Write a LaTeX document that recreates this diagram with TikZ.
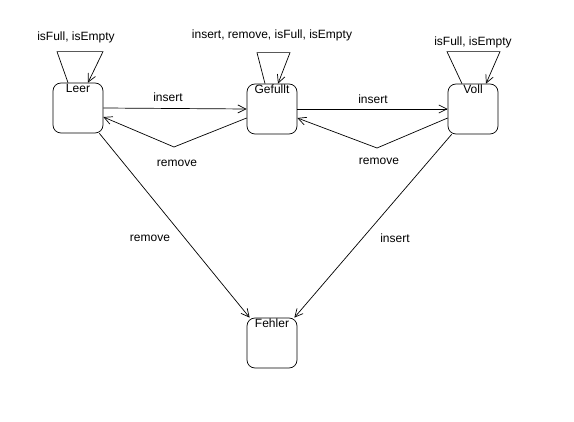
\documentclass[tikz,border=0pt]{standalone}
\usepackage{fontspec}
\setmainfont{Liberation Sans}
\usetikzlibrary{arrows.meta}

\begin{document}
\begin{tikzpicture}[x=1pt,y=-1pt,line width=0.7pt,
	font=\fontsize{12}{14}\selectfont,
	state/.style={shape=rectangle, draw, rounded corners=8pt, minimum width=50pt, minimum height=50pt, inner sep=0pt},
	statename/.style={anchor=north, inner sep=1pt},
	trans/.style={-{Straight Barb[length=8pt,width=8pt]}},
	lbl/.style={anchor=center, inner sep=0pt}]	% States, loops and transitions:
		\useasboundingbox (0,0) rectangle (574,422);
		\node[state](leer) at (78,108){};
		\node[statename] at (leer.north){Leer};
		\node[state](gefullt) at (272,109){};
		\node[statename] at (gefullt.north){Gefullt};
		\node[state](voll) at (473,109){};
		\node[statename] at (voll.north){Voll};
		\node[state](fehler) at (272,343){};
		\node[statename] at (fehler.north){Fehler};
		% self loops
		\draw[trans] ([xshift=-10pt]leer.north) -- ++(-11,-31) -- ++(46,0) -- ([xshift=10pt]leer.north);
		\draw[trans] ([xshift=-7pt]gefullt.north) -- ++(-8,-31) -- ++(33,0) -- ([xshift=6pt]gefullt.north);
		\draw[trans] ([xshift=-11pt]voll.north) -- ++(-15,-32) -- ++(53,0) -- ([xshift=13pt]voll.north);
		\node[lbl](l1) at (76,37){isFull, isEmpty};
		\node[lbl](l2) at (272,35){insert, remove, isFull, isEmpty};
		\node[lbl](l3) at (473,42){isFull, isEmpty};
		% insert / remove between states
		\coordinate (rm1) at (174,147);
		\coordinate (rm2) at (377,148);
		\draw[trans] (leer.east) -- (gefullt.west);
		\draw[trans] (gefullt.east) -- (voll.west);
		\draw[trans] ([yshift=-9pt]gefullt.west) -- (rm1) -- ([yshift=-9pt]leer.east);
		\draw[trans] ([yshift=-9pt]voll.west) -- (rm2) -- ([yshift=-9pt]gefullt.east);
		\node[lbl](l4) at (168,97){insert};
		\node[lbl](l5) at (373,99){insert};
		\node[lbl](l6) at (177,163){remove};
		\node[lbl](l7) at (379,161){remove};
		% into the error state
		\draw[trans] ([xshift=-4pt]leer.south east) -- ([xshift=3pt]fehler.north west);
		\draw[trans] ([xshift=4pt]voll.south west) -- ([xshift=-3pt]fehler.north east);
		\node[lbl](l8) at (150,238){remove};
		\node[lbl](l9) at (395,238){insert};
\end{tikzpicture}
\end{document}
